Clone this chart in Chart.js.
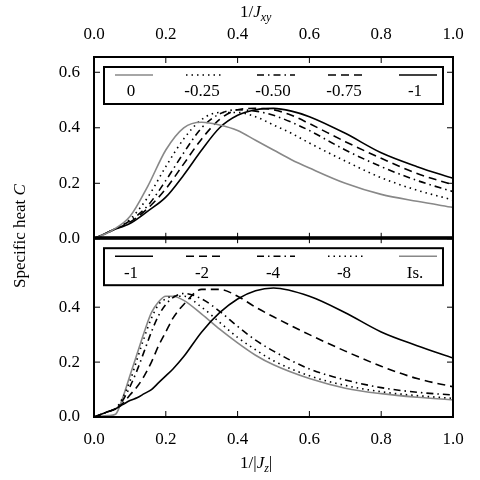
<!DOCTYPE html><html><head><meta charset="utf-8">
<script src="https://cdn.jsdelivr.net/npm/chart.js@4"></script>
<style>body{margin:0;width:480px;height:480px;position:relative;background:#fff;font-family:"Liberation Serif",serif}
canvas{position:absolute;left:0}
.t{position:absolute;font-size:17px;color:#000;white-space:nowrap}
sub{font-size:12px;font-style:italic}
</style></head><body>
<div style="position:absolute;left:0;top:0;width:480px;height:255px"><canvas id="c1"></canvas></div>
<div style="position:absolute;left:0;top:221px;width:480px;height:259px"><canvas id="c2"></canvas></div>
<div class="t" style="left:240px;top:2px">1/<i>J</i><sub>xy</sub></div>
<div class="t" style="left:240px;top:453px">1/|<i>J</i><sub>z</sub>|</div>
<div class="t" style="left:-45px;top:226px;width:130px;text-align:center;transform:rotate(-90deg)">Specific heat <i>C</i></div>
<script>
const xTop=[0,0.05,0.1,0.15,0.2,0.25,0.3,0.35,0.4,0.45,0.5,0.55,0.6,0.7,0.8,0.9,1.0];
const topLabels=['0','-0.25','-0.50','-0.75','-1'];
const top0=[0,0.03,0.08,0.19,0.32,0.40,0.42,0.41,0.39,0.355,0.32,0.285,0.255,0.20,0.16,0.135,0.113];
const top025=[0,0.03,0.07,0.15,0.26,0.36,0.43,0.455,0.455,0.44,0.41,0.38,0.345,0.28,0.22,0.175,0.14];
const top050=[0,0.03,0.065,0.12,0.21,0.31,0.40,0.45,0.465,0.46,0.445,0.42,0.39,0.32,0.26,0.21,0.17];
const top075=[0,0.03,0.06,0.11,0.18,0.27,0.36,0.43,0.465,0.47,0.465,0.445,0.415,0.35,0.29,0.235,0.195];
const top1=[0,0.03,0.055,0.10,0.15,0.23,0.32,0.40,0.445,0.465,0.47,0.46,0.44,0.38,0.31,0.26,0.218];
const xBot=[0,0.04,0.06,0.08,0.1,0.12,0.14,0.16,0.18,0.2,0.22,0.25,0.3,0.35,0.4,0.45,0.5,0.6,0.7,0.8,0.9,1.0];
const botLabels=['-1','-2','-4','-8','Is.'];
const bot1=[0,0.02,0.03,0.045,0.06,0.07,0.085,0.10,0.125,0.15,0.175,0.22,0.31,0.38,0.43,0.46,0.47,0.44,0.38,0.31,0.26,0.215];
const bot2=[0,0.02,0.03,0.05,0.08,0.11,0.15,0.20,0.26,0.31,0.36,0.41,0.465,0.465,0.44,0.40,0.365,0.30,0.24,0.185,0.14,0.11];
const bot4=[0,0.02,0.03,0.06,0.11,0.17,0.24,0.31,0.37,0.41,0.435,0.45,0.43,0.385,0.33,0.28,0.24,0.175,0.135,0.107,0.09,0.08];
const bot8=[0,0.02,0.03,0.07,0.13,0.21,0.29,0.36,0.41,0.43,0.44,0.44,0.40,0.345,0.29,0.245,0.205,0.15,0.115,0.092,0.078,0.068];
const botIs=[0,0.005,0.01,0.07,0.15,0.23,0.31,0.38,0.42,0.44,0.44,0.425,0.375,0.32,0.27,0.225,0.19,0.14,0.105,0.085,0.072,0.063];
const xTicks=[0,0.2,0.4,0.6,0.8,1.0];
const GRAY='#888', BLK='#000';
const DOT=[1.5,4], DASHDOT=[7,4,1.5,4], DASH=[8,5];
function ds(xs,ys,label,color,dash){return{label,data:xs.map((x,i)=>({x,y:ys[i]})),borderColor:color,borderWidth:1.6,borderDash:dash,pointRadius:0,tension:0.4,cubicInterpolationMode:'monotone',fill:false}}
const FONT={family:'"Liberation Serif", serif',size:17};
const framePlugin={id:'frame',afterDatasetsDraw(ch,a,opts){
 const c=ch.ctx,A=ch.chartArea;c.save();c.strokeStyle='#000';c.lineWidth=2;c.setLineDash([]);
 c.strokeRect(A.left,A.top,A.right-A.left,A.bottom-A.top);c.lineWidth=1;
 const xs=ch.scales.x,ys=ch.scales.y;
 xTicks.forEach(v=>{const p=xs.getPixelForValue(v);c.beginPath();c.moveTo(p,A.top);c.lineTo(p,A.top+6);c.moveTo(p,A.bottom);c.lineTo(p,A.bottom-6);c.stroke();});
 ys.ticks.forEach(t=>{const p=ys.getPixelForValue(t.value);c.beginPath();c.moveTo(A.left,p);c.lineTo(A.left+6,p);c.moveTo(A.right,p);c.lineTo(A.right-6,p);c.stroke();});
 const L=A.left+10,T=A.top+opts.off,W=339,H=37;
 c.fillStyle='#fff';c.fillRect(L,T,W,H);c.lineWidth=2;c.strokeRect(L,T,W,H);
 c.font='17px "Liberation Serif", serif';c.fillStyle='#000';c.textAlign='center';c.textBaseline='middle';
 ch.data.datasets.forEach((d,i)=>{const cx=L+30+i*71;c.strokeStyle=d.borderColor;c.lineWidth=1.6;c.setLineDash(d.borderDash||[]);
  c.beginPath();c.moveTo(cx-19,T+8);c.lineTo(cx+19,T+8);c.stroke();c.setLineDash([]);c.fillText(d.label,cx-3,T+25);});
 c.restore();}};
function mk(id,sets,pos,yfilter,xH,off,pb){
 return new Chart(document.getElementById(id),{type:'line',data:{datasets:sets},plugins:[framePlugin],
 options:{responsive:true,maintainAspectRatio:false,animation:false,layout:{autoPadding:false,padding:{left:0,right:27,top:0,bottom:pb}},
 plugins:{legend:{display:false},tooltip:{enabled:false},frame:{off}},
 scales:{x:{type:'linear',position:pos,min:0,max:1,grid:{display:false},border:{display:false},
  afterBuildTicks(s){s.ticks=xTicks.map(v=>({value:v}))},afterFit(s){s.height=xH},
  ticks:{font:FONT,color:'#000',padding:4,maxRotation:0,callback:v=>v.toFixed(1)}},
 y:{min:0,max:0.655,grid:{display:false},border:{display:false},afterFit(s){s.width=94},
  afterBuildTicks(s){s.ticks=yfilter.map(v=>({value:v}))},
  ticks:{font:FONT,color:'#000',padding:6,callback:v=>v.toFixed(1)}}}}});}
mk('c1',[ds(xTop,top0,topLabels[0],GRAY,[]),ds(xTop,top025,topLabels[1],BLK,DOT),ds(xTop,top050,topLabels[2],BLK,DASHDOT),ds(xTop,top075,topLabels[3],BLK,DASH),ds(xTop,top1,topLabels[4],BLK,[])],'top',[0,0.2,0.4,0.6],57,10,3);
mk('c2',[ds(xBot,bot1,botLabels[0],BLK,[]),ds(xBot,bot2,botLabels[1],BLK,DASH),ds(xBot,bot4,botLabels[2],BLK,DASHDOT),ds(xBot,bot8,botLabels[3],BLK,DOT),ds(xBot,botIs,botLabels[4],GRAY,[])],'bottom',[0,0.2,0.4],63,11,0);
</script></body></html>
